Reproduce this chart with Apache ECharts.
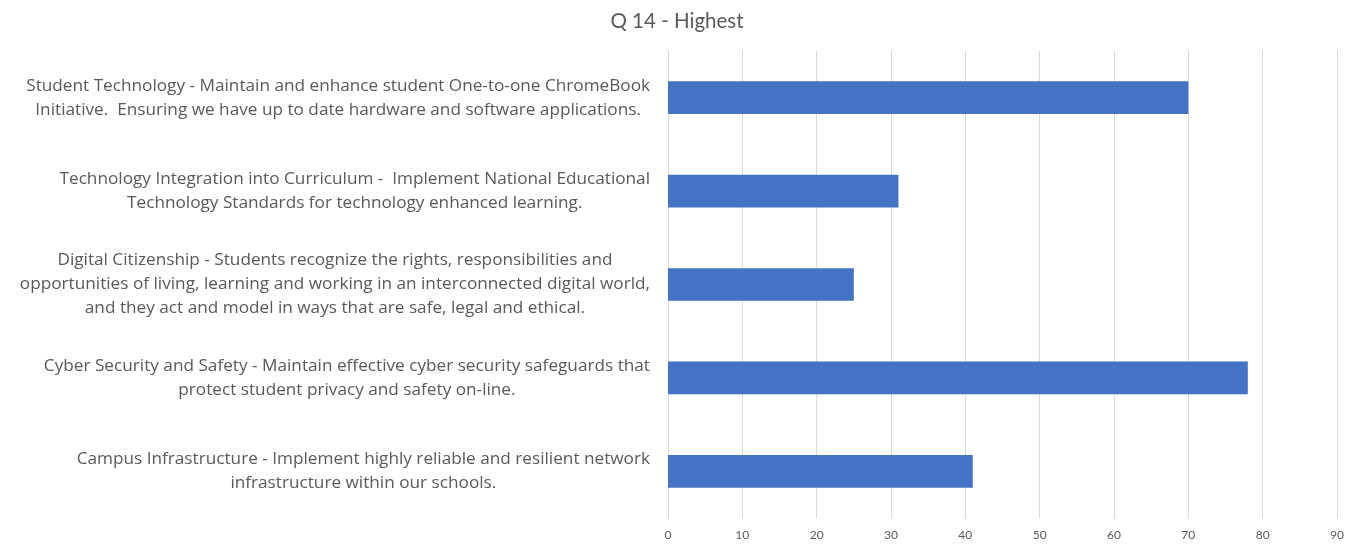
<!DOCTYPE html>
<html>
<head>
<meta charset="utf-8">
<script src="https://cdn.jsdelivr.net/npm/echarts@6/dist/echarts.min.js"></script>
<style>html,body{margin:0;padding:0;background:#fff}#c{width:1354px;height:545px}</style>
</head>
<body>
<div id="c"></div>
<script>
const title = "Q 14 - Highest";
const categories = [
  "Student Technology - Maintain and enhance student One-to-one ChromeBook\nInitiative.  Ensuring we have up to date hardware and software applications.",
  "Technology Integration into Curriculum -  Implement National Educational\nTechnology Standards for technology enhanced learning.",
  "Digital Citizenship - Students recognize the rights, responsibilities and\nopportunities of living, learning and working in an interconnected digital world,\nand they act and model in ways that are safe, legal and ethical.",
  "Cyber Security and Safety - Maintain effective cyber security safeguards that\nprotect student privacy and safety on-line.",
  "Campus Infrastructure - Implement highly reliable and resilient network\ninfrastructure within our schools."
];
const values = [70, 31, 25, 78, 41];
const axisMin = 0, axisMax = 90, axisStep = 10;

const chart = echarts.init(document.getElementById('c'));
chart.setOption({
  animation: false,
  backgroundColor: '#ffffff',
  title: {
    text: title, left: 'center', top: 6,
    textStyle: { fontFamily: 'Lato', fontSize: 20.5, fontWeight: 'normal', color: '#595959' }
  },
  grid: { left: 668, right: 17, top: 51, bottom: 27, containLabel: false },
  xAxis: {
    type: 'value', min: axisMin, max: axisMax, interval: axisStep,
    axisLine: { show: false }, axisTick: { show: false },
    axisLabel: { color: '#595959', fontFamily: 'Lato', fontSize: 12, margin: 11 },
    splitLine: { show: true, lineStyle: { color: '#d9d9d9', width: 1 } }
  },
  yAxis: {
    type: 'category', inverse: true, data: categories,
    axisLine: { show: true, lineStyle: { color: '#d9d9d9' } },
    axisTick: { show: false },
    axisLabel: {
      margin: 18,
      formatter: v => v.split('\n').map(l => '{c|' + l + '}').join('\n'),
      rich: { c: { align: 'center', fontFamily: 'Open Sans', fontSize: 17.2, color: '#595959', lineHeight: 24 } }
    }
  },
  series: [{
    type: 'bar', data: values, barCategoryGap: '65%',
    itemStyle: { color: '#4472C4' }
  }]
});
</script>
</body>
</html>
